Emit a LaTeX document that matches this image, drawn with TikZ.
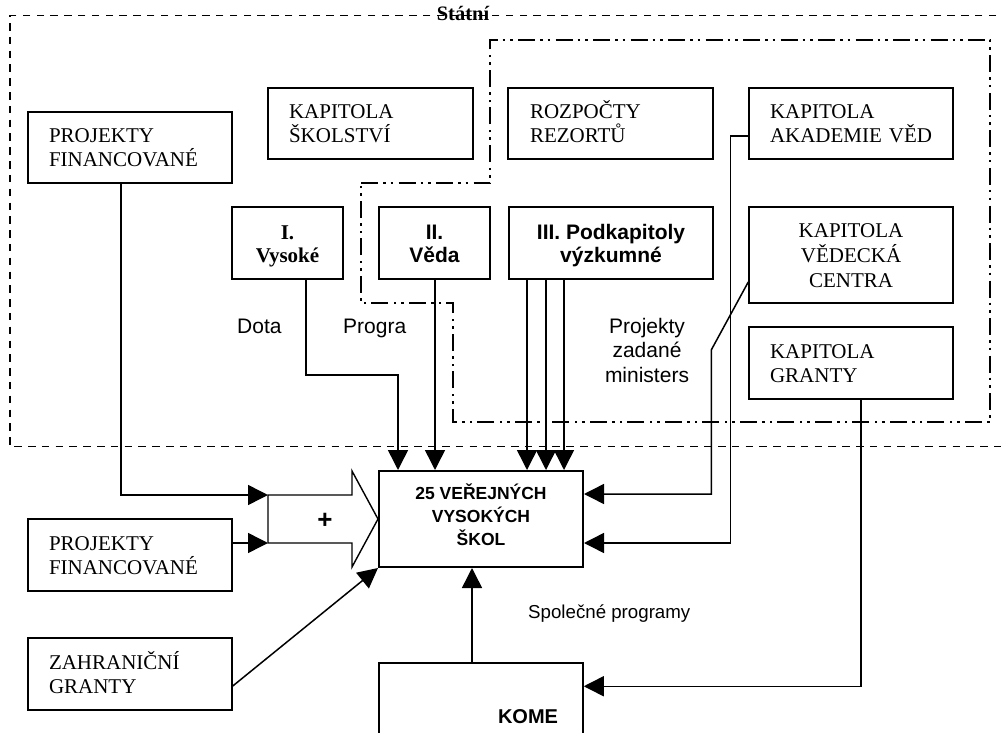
\documentclass[tikz,border=0pt]{standalone}
\usepackage{fontspec}
\setmainfont{Liberation Serif}
\setsansfont{Liberation Sans}
\usetikzlibrary{arrows.meta}

% fixed line height / depth so that box texts sit at the same place whatever the accents
\newcommand\tstrut[1]{\rule{0pt}{#1}}
\newcommand\bstrut[1]{\rule[-#1]{0pt}{#1}}

\tikzset{
  frame/.style={draw, line width=1.5pt, inner sep=0pt},
  lbox/.style={frame, align=left, font=\fontsize{21}{24}\selectfont},
  cbox/.style={frame, align=center, font=\fontsize{21}{25}\selectfont},
  bserif/.style={frame, align=center, font=\bfseries\fontsize{21}{23}\selectfont},
  bsans/.style={frame, align=center, font=\sffamily\bfseries\fontsize{21}{23}\selectfont},
  note/.style={inner sep=0pt, font=\sffamily\fontsize{21}{24.5}\selectfont},
  arr/.style={line width=1.5pt, line join=miter, -{Triangle[length=20pt,width=20pt]}},
  statebound/.style={line width=1.5pt, dash pattern=on 7.5pt off 6.3pt},
  resortbound/.style={line width=1.5pt, dash pattern=on 17pt off 5pt on 2.5pt off 5pt on 2.5pt off 5.5pt},
}

\begin{document}
\begin{tikzpicture}[x=1pt,y=-1pt]
\clip (0,0) rectangle (1001,733);
\fill[white] (0,0) rectangle (1001,733);

% state budget (dashed) and departmental budgets (dash-dot-dot)
\draw[statebound] (1010,15.7) -- (10,15.7) -- (10,446.7) -- (1010,446.7);
\node[inner sep=0pt, anchor=base, font=\bfseries\fontsize{20.5}{22}\selectfont] (statni) at (463,21) {Státní};
\draw[resortbound] (361,183) -- (490,183) -- (490,40) -- (990,40) -- (990,422)
  -- (453,422) -- (453,303) -- (361,303) -- cycle;

% chapters
\node[lbox, minimum width=204pt, minimum height=71pt, text width=162pt] (pfA) at (130,147.5)
  {\tstrut{19pt}PROJEKTY\\FINANCOVANÉ\bstrut{5pt}};
\node[lbox, minimum width=205pt, minimum height=71pt, text width=163pt] (skol) at (370.5,123.5)
  {\tstrut{19pt}KAPITOLA\\ŠKOLSTVÍ\bstrut{5pt}};
\node[lbox, minimum width=205pt, minimum height=71pt, text width=161pt] (rozp) at (610.5,123.5)
  {\tstrut{19pt}ROZPOČTY\\REZORTŮ\bstrut{5pt}};
\node[lbox, minimum width=204pt, minimum height=71pt, text width=162pt] (akad) at (851,123.5)
  {\tstrut{19pt}KAPITOLA\\AKADEMIE~VĚD\bstrut{5pt}};

% sub-chapters of the education chapter
\node[bserif, minimum width=111pt, minimum height=72pt] (vys) at (287.5,243)
  {\tstrut{21pt}I.\\Vysoké\bstrut{4.5pt}};
\node[bsans, minimum width=111pt, minimum height=72pt] (veda) at (434.5,243)
  {\tstrut{21pt}II.\\Věda\bstrut{4.5pt}};
\node[bsans, minimum width=204pt, minimum height=72pt] (podk) at (611,243)
  {\tstrut{21pt}III. Podkapitoly\\výzkumné\bstrut{4.5pt}};

\node[cbox, minimum width=204pt, minimum height=96pt] (centra) at (851,255)
  {\tstrut{19pt}KAPITOLA\\VĚDECKÁ\\CENTRA\bstrut{5pt}};
\node[lbox, minimum width=204pt, minimum height=72pt, text width=162pt] (granty) at (851,363)
  {\tstrut{19pt}KAPITOLA\\GRANTY\bstrut{5pt}};

% universities and the other sources
\node[frame, line width=2pt, align=center, minimum width=204pt, minimum height=96pt,
      font=\sffamily\bfseries\fontsize{17.5}{23}\selectfont] (vvs) at (481,519)
  {\tstrut{17pt}25 VEŘEJNÝCH\\VYSOKÝCH\\ŠKOL\bstrut{11pt}};
\node[lbox, minimum width=204pt, minimum height=72pt, text width=162pt] (pfB) at (130,555)
  {\tstrut{19pt}PROJEKTY\\FINANCOVANÉ\bstrut{5pt}};
\node[lbox, minimum width=204pt, minimum height=72pt, text width=162pt] (zahr) at (130,674)
  {\tstrut{19pt}ZAHRANIČNÍ\\GRANTY\bstrut{5pt}};
\node[frame, minimum width=204pt, minimum height=137pt] (kome) at (481,731.5) {};
\node[inner sep=0pt, anchor=base, font=\sffamily\bfseries\fontsize{20}{22}\selectfont] (kometxt) at (528,723) {KOME};

% flow labels
\node[note, anchor=base west] (dota) at (237,333) {Dota};
\node[note, anchor=base west] (progra) at (343,333) {Progra};
\node[note, align=center] (zadane) at (647,350) {Projekty\\zadané\\ministers};
\node[note, anchor=base west, font=\sffamily\fontsize{18.7}{22}\selectfont] (spol) at (528,618) {Společné programy};

% combining block arrow
\coordinate (bt) at (268,495);
\coordinate (bb) at (268,543);
\draw[line width=1.4pt, line join=miter] (bt) -- (352,495) -- (352,471) -- (vvs.west)
  -- (352,567) -- (352,543) -- (bb) -- cycle;
\node[inner sep=0pt, font=\sffamily\bfseries\fontsize{26}{26}\selectfont] (plus) at (325,521) {+};

% flows
\draw[arr] ([xshift=-9pt]pfA.south) |- (bt);
\draw[arr] (pfB.east |- bb) -- (bb);
\draw[arr] ([yshift=-12pt]zahr.east) -- (vvs.south west);
\draw[arr] ([xshift=18.5pt]vys.south) -- ++(0,95) -| ([xshift=-83pt]vvs.north);
\draw[arr] ([xshift=0.5pt]veda.south) -- ([xshift=0.5pt]veda.south |- vvs.north);
\foreach \dx [count=\i] in {-84,-65,-47}{
  \coordinate (pk\i) at ([xshift=\dx pt]podk.south);
  \draw[arr] (pk\i) -- (pk\i |- vvs.north);
}
\draw[arr] ([yshift=-12.5pt]akad.west) -- ++(-18,0) |- ([yshift=-24pt]vvs.east);
\draw[arr] ([yshift=-27pt]centra.west) -- ++(-37,68) |- ([yshift=25pt]vvs.east);
\draw[arr] ([xshift=10pt]granty.south) |- ([yshift=-24pt]kome.north east);
\draw[arr] ([xshift=-9pt]kome.north) -- ([xshift=-9pt]vvs.south);
\end{tikzpicture}
\end{document}
